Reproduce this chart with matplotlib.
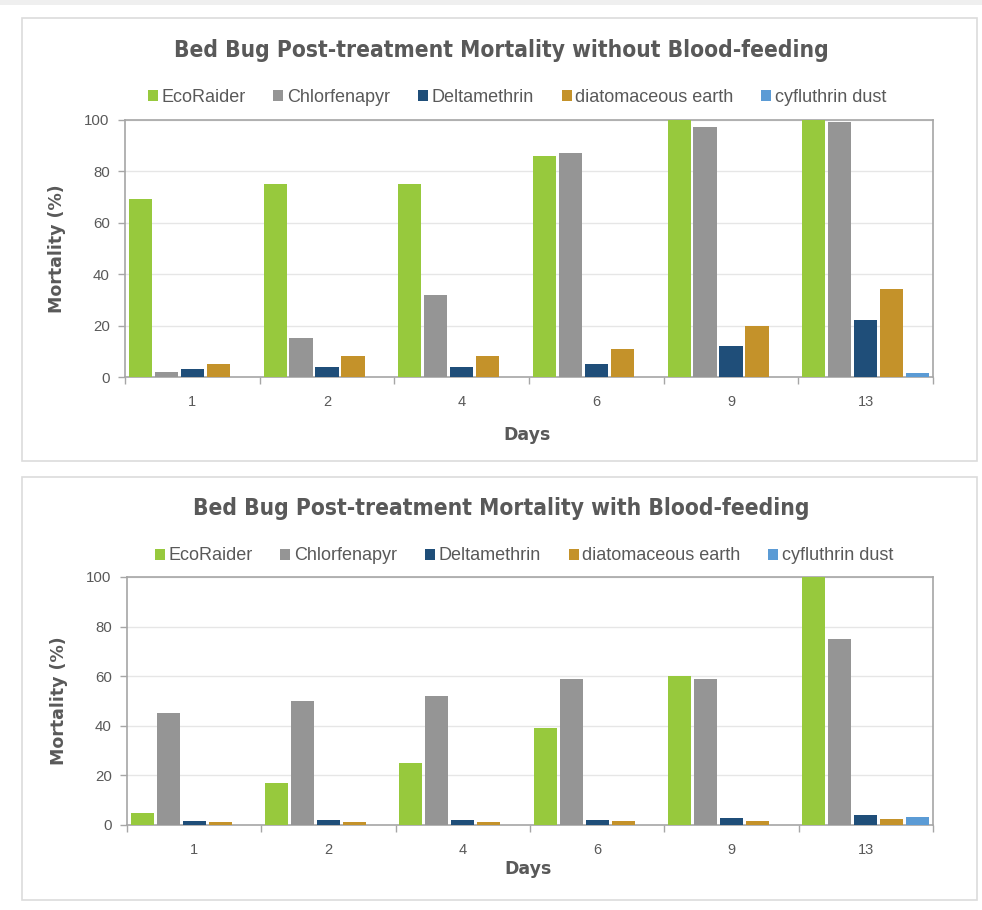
import matplotlib
matplotlib.use('Agg')
import matplotlib.pyplot as plt
from matplotlib import font_manager
from matplotlib.patches import Rectangle, Patch
import numpy as np

# data
days = ['1', '2', '4', '6', '9', '13']
series = ['EcoRaider', 'Chlorfenapyr', 'Deltamethrin', 'diatomaceous earth', 'cyfluthrin dust']

unfed_ecoraider = [69, 75, 75, 86, 100, 100]
unfed_chlorfenapyr = [2, 15, 32, 87, 97, 99]
unfed_deltamethrin = [3, 4, 4, 5, 12, 22]
unfed_diatomaceous = [5, 8, 8, 11, 20, 34]
unfed_cyfluthrin = [0, 0, 0, 0, 0, 1.4]

fed_ecoraider = [5, 17, 25, 39, 60, 100]
fed_chlorfenapyr = [45, 50, 52, 59, 59, 75]
fed_deltamethrin = [1.5, 2, 2, 2, 3, 4]
fed_diatomaceous = [1.1, 1.3, 1.3, 1.5, 1.7, 2.3]
fed_cyfluthrin = [0, 0, 0, 0, 0, 3.2]

colors = ['#97c93d', '#959595', '#1f4e79', '#c4922a', '#5b9bd5']
text_gray = '#595959'
axis_gray = '#a6a6a6'

# pick a condensed bold face for the titles if one is installed
names = {f.name for f in font_manager.fontManager.ttflist}
title_family = 'DejaVu Sans'
title_stretch = 'normal'
for cand in ['Liberation Sans Narrow', 'DejaVu Sans Condensed']:
    if cand in names:
        title_family = cand
        break
else:
    if any(f.name == 'DejaVu Sans' and f.stretch == 'condensed' for f in font_manager.fontManager.ttflist):
        title_stretch = 'condensed'

plt.rcParams['font.family'] = ['Liberation Sans', 'DejaVu Sans']

W, H = 982, 910
fig = plt.figure(figsize=(W / 100, H / 100), dpi=100, facecolor='white')

# page background bits and panel frames (behind the axes)
fig.patches.append(Rectangle((0, 1 - 5 / H), 1, 5 / H, transform=fig.transFigure,
                             facecolor='#efefef', edgecolor='none', zorder=-2))
for (x0, y0, x1, y1) in [(22, 18, 977, 461), (22, 477, 977, 900)]:
    fig.patches.append(Rectangle((x0 / W, 1 - y1 / H), (x1 - x0) / W, (y1 - y0) / H,
                                 transform=fig.transFigure, facecolor='white',
                                 edgecolor='#dcdcdc', linewidth=1.2, zorder=-2))

panels = [
    dict(title='Bed Bug Post-treatment Mortality without Blood-feeding',
         data=[unfed_ecoraider, unfed_chlorfenapyr, unfed_deltamethrin,
               unfed_diatomaceous, unfed_cyfluthrin],
         rect=[125 / W, 1 - 377 / H, 808 / W, 257.5 / H],
         title_y=1 - 50 / H, legend_y=1 - 97 / H, legend_x=517 / W, days_y=-0.192),
    dict(title='Bed Bug Post-treatment Mortality with Blood-feeding',
         data=[fed_ecoraider, fed_chlorfenapyr, fed_deltamethrin,
               fed_diatomaceous, fed_cyfluthrin],
         rect=[127 / W, 1 - 825 / H, 806 / W, 248 / H],
         title_y=1 - 509 / H, legend_y=1 - 556 / H, legend_x=524 / W, days_y=-0.143),
]

x = np.arange(len(days))
step = 0.193
width = 0.171

for p in panels:
    ax = fig.add_axes(p['rect'], zorder=1)
    for i, vals in enumerate(p['data']):
        ax.bar(x + (i - 2) * step, vals, width=width, color=colors[i], zorder=3,
               label=series[i])
    ax.set_xlim(-0.5, len(days) - 0.5)
    ax.set_ylim(0, 100)
    ax.set_yticks([0, 20, 40, 60, 80, 100])
    ax.yaxis.grid(True, color='#e6e6e6', linewidth=1.0, zorder=0)
    ax.set_axisbelow(True)
    ax.set_xticks(x)
    ax.set_xticklabels(days)
    ax.set_xticks(np.arange(-0.5, len(days)), minor=True)
    ax.tick_params(axis='x', which='major', length=0, pad=13, labelsize=10.5,
                   labelcolor=text_gray)
    ax.tick_params(axis='x', which='minor', length=5, color=axis_gray, width=1)
    ax.tick_params(axis='y', length=5, color=axis_gray, width=1, pad=6,
                   labelsize=10.8, labelcolor=text_gray)
    for s in ax.spines.values():
        s.set_color(axis_gray)
        s.set_linewidth(1.2)
    ax.set_ylabel('Mortality (%)', fontsize=12.5, fontweight='bold', color=text_gray,
                  family='DejaVu Sans')
    ax.yaxis.set_label_coords(-0.073, 0.5)
    ax.set_xlabel('Days', fontsize=12.5, fontweight='bold', color=text_gray,
                  family='DejaVu Sans')
    ax.xaxis.set_label_coords(0.497, p['days_y'])

    fig.text(0.5107, p['title_y'], p['title'], ha='center', va='center',
             fontsize=16.3, fontweight='bold', color=text_gray,
             family=title_family, fontstretch=title_stretch)

    handles = [Patch(facecolor=c, edgecolor='none') for c in colors]
    fig.legend(handles, series, loc='center', bbox_to_anchor=(p['legend_x'], p['legend_y']),
               ncol=5, frameon=False, fontsize=13, handlelength=0.55, handleheight=0.55,
               handletextpad=0.2, columnspacing=1.55, labelcolor=text_gray)

fig.savefig('out.png', dpi=100, facecolor='white')
